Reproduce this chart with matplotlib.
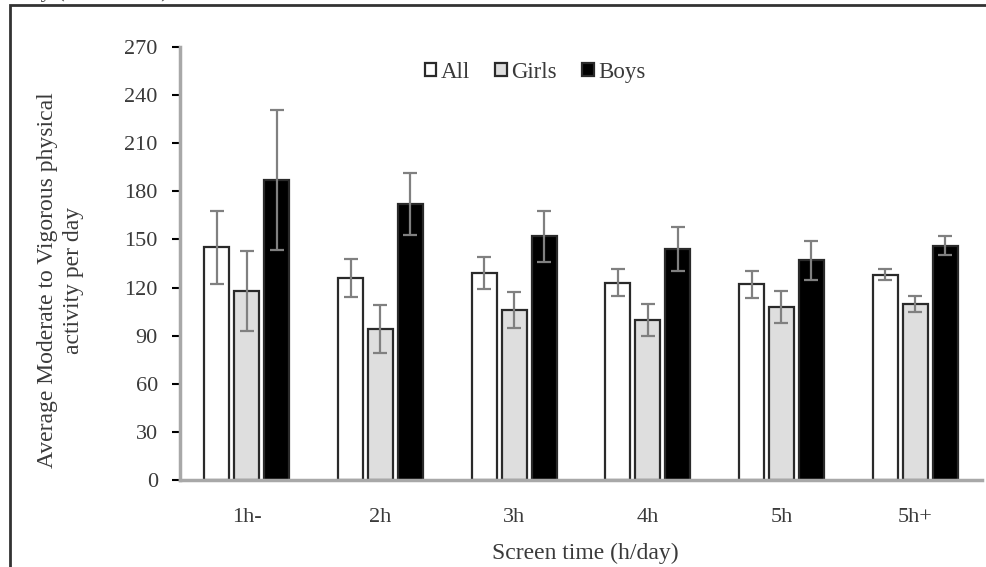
import matplotlib
matplotlib.use("Agg")
import matplotlib.pyplot as plt
import numpy as np
from matplotlib.patches import Rectangle

# donnees
categories = ["1h-", "2h", "3h", "4h", "5h", "5h+"]
all_vals = [145, 126, 129, 123, 122, 128]
girls_vals = [118, 94, 106, 100, 108, 110]
boys_vals = [187, 172, 152, 144, 137, 146]
all_err = [23, 12, 10, 8.5, 8.5, 3.5]
girls_err = [25, 15, 11, 10, 10, 5]
boys_err = [43.5, 19.5, 16, 13.5, 12, 6]

txt = "#3a3a3a"
fs = 16
fs_lab = 17
plt.rcParams["font.family"] = ["Liberation Serif", "DejaVu Serif"]

fig = plt.figure(figsize=(9.87, 5.67), dpi=100)
ax = fig.add_axes([180 / 987, 1 - 480 / 567, 802 / 987, 433 / 567])

x = np.arange(len(categories))
w = 0.187
off = 0.224
eb = dict(ecolor="#808080", elinewidth=1.6, capsize=5, capthick=1.6)
ax.bar(x - off, all_vals, w, yerr=all_err, color="white", edgecolor="#2a2a2a",
       linewidth=1.6, label="All", error_kw=eb, zorder=2)
ax.bar(x, girls_vals, w, yerr=girls_err, color="#dedede", edgecolor="#2a2a2a",
       linewidth=1.6, label="Girls", error_kw=eb, zorder=2)
ax.bar(x + off, boys_vals, w, yerr=boys_err, color="black", edgecolor="#2a2a2a",
       linewidth=1.6, label="Boys", error_kw=eb, zorder=2)

ax.set_xlim(-0.5, 5.5)
ax.set_ylim(0, 270)
ax.set_yticks(range(0, 271, 30))
ax.set_xticks(x)
ax.set_xticklabels(categories)
ax.tick_params(axis="y", length=6, width=1.5, color="black", labelsize=fs,
               labelcolor=txt, pad=10)
ax.tick_params(axis="x", length=0, labelsize=fs, labelcolor=txt, pad=20)

for s in ["top", "right"]:
    ax.spines[s].set_visible(False)
for s in ["left", "bottom"]:
    ax.spines[s].set_color("#a8a8a8")
    ax.spines[s].set_linewidth(2.5)

ax.set_ylabel("Average Moderate to Vigorous physical\nactivity per day",
              fontsize=fs_lab, color=txt, linespacing=1.3)
ax.yaxis.set_label_coords(-0.12, 0.462)
ax.set_xlabel("Screen time (h/day)", fontsize=fs_lab, color=txt)
ax.xaxis.set_label_coords(0.505, -0.146)

leg = ax.legend(loc="center", bbox_to_anchor=(0.443, 0.942), ncol=3,
                frameon=False, fontsize=16.5, handlelength=0.5, handleheight=0.5,
                handletextpad=0.2, columnspacing=1.1)
for t in leg.get_texts():
    t.set_color(txt)

# cadre autour de la figure
fig.patches.append(Rectangle((10 / 987, -0.1), 1.1, 1 - 5 / 567 + 0.1,
                             transform=fig.transFigure, fill=False,
                             edgecolor="#333333", linewidth=2, clip_on=False))
fig.text(0.0, 1 + 2.5 / 567, "Study (2008-2009)", fontsize=fs, color=txt,
         va="baseline", ha="left")

fig.savefig("out.png", dpi=100)
